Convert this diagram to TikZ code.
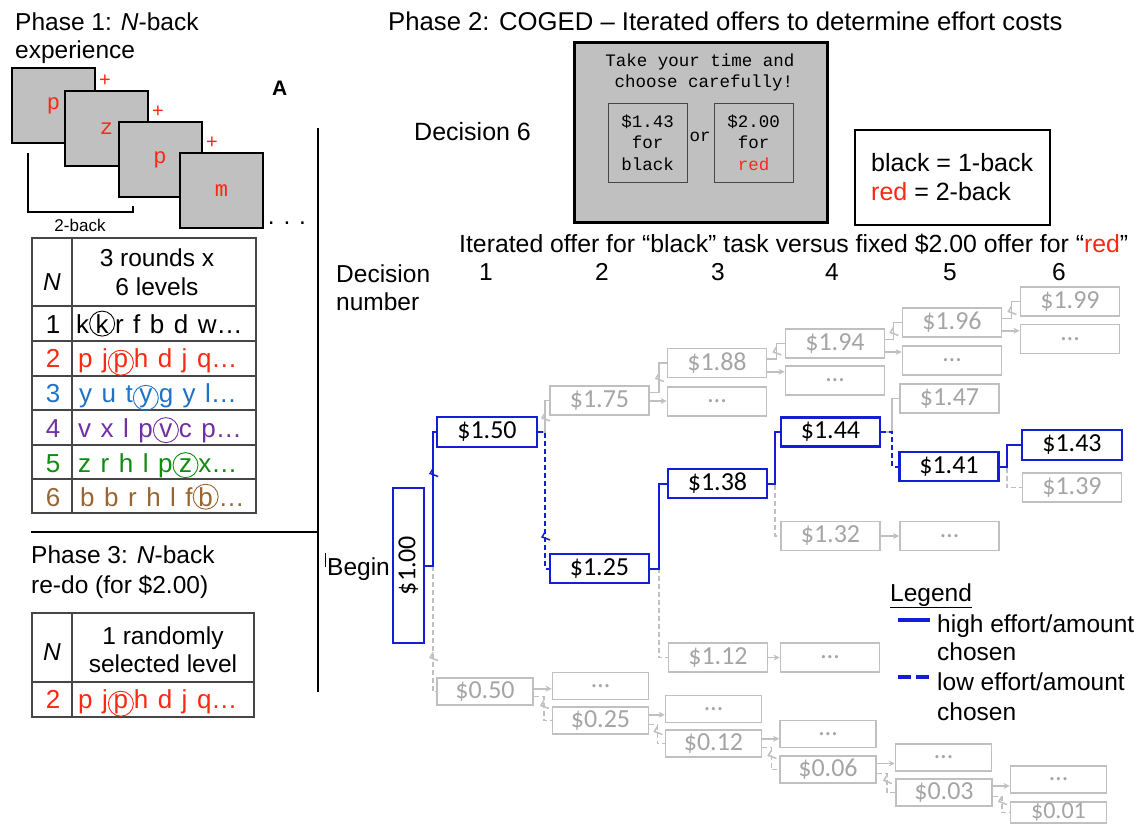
\documentclass[tikz,border=0pt]{standalone}
\usepackage{fontspec}
\setmainfont{Liberation Sans}
\newfontfamily\mono{Liberation Mono}
\newfontfamily\calib{Carlito}
\usetikzlibrary{calc,arrows.meta}
\definecolor{tred}{RGB}{250,40,20}
\definecolor{tblue}{RGB}{30,115,200}
\definecolor{tpurple}{RGB}{112,48,160}
\definecolor{tgreen}{RGB}{16,140,16}
\definecolor{tbrown}{RGB}{153,102,51}
\definecolor{pblue}{RGB}{20,30,215}
\definecolor{ggray}{RGB}{192,192,192}
\definecolor{gtext}{RGB}{165,165,165}
\definecolor{cardgray}{RGB}{192,192,192}
\definecolor{tline}{RGB}{70,70,70}
\newcommand\fA{\fontsize{24.5}{28}\selectfont}
\newcommand\fR{\fontsize{26}{30}\selectfont\spaceskip=9.5pt\relax}
\newcommand\cl[1]{\tikz[baseline=(cc.base)]\node[circle,draw,line width=0.9pt,inner sep=0pt,minimum width=25pt,minimum height=25pt](cc){#1};}
\begin{document}
\begin{tikzpicture}[x=1pt,y=-1pt,
  t/.style={anchor=base west, inner sep=0pt, font=\fA},
  tc/.style={anchor=base, inner sep=0pt, font=\fA},
  rt/.style={anchor=base west, inner sep=0pt, font=\fR},
  rd/.style={anchor=base, inner sep=0pt, font=\fR},
  card/.style={draw=black, line width=2pt, fill=cardgray, minimum width=83pt, minimum height=75pt, inner sep=0pt, text=tred, font=\mono\fontsize{22}{24}\selectfont},
  plus/.style={inner sep=0pt, text=tred, font=\fontsize{20}{22}\selectfont},
  tab/.style={draw=tline, line width=1.3pt},
  bbox/.style={draw=pblue, line width=2.2pt, minimum width=99pt, minimum height=29pt, inner sep=0pt, font=\calib\fontsize{26}{30}\selectfont},
  gbox/.style={draw=ggray, line width=1.8pt, text=gtext, minimum width=99pt, minimum height=29pt, inner sep=0pt, font=\calib\fontsize{26}{30}\selectfont},
  gboxs/.style={gbox, minimum width=96pt, minimum height=27pt},
  hi/.style={draw=pblue, line width=2pt},
  lo/.style={hi, dash pattern=on 5pt off 3pt},
  ghi/.style={draw=ggray, line width=1.8pt},
  glo/.style={ghi, dash pattern=on 5pt off 3pt},
  garr/.style={ghi, -{Stealth[length=6pt,width=6pt]}},
  zzb/.style={draw=pblue, line width=1.5pt},
  zzg/.style={draw=ggray, line width=1.5pt},
  opt/.style={draw=tline, line width=1pt, fill=cardgray, minimum width=79pt, minimum height=79pt, inner sep=0pt, align=center, font=\mono\fontsize{17.5}{21.5}\selectfont}
]
\clip (0,0) rectangle (1143,825);
\fill[white] (0,0) rectangle (1143,825);

% ---------------- Phase 1 ----------------
\node[t] (p1a) at (15,30) {Phase 1: {\itshape N}-back};
\node[t] (p1b) at (15,58) {experience};
\node[card] (c1) at (53.5,105.5) {p};
\node[card] (c2) at (106.5,128.5) {z};
\node[card] (c3) at (160,159.5) {p};
\node[card] (c4) at (221.5,190.5) {m};
\node[plus] (pl1) at (105,81) {+};
\node[plus] (pl2) at (158,112) {+};
\node[plus] (pl3) at (212,143) {+};
\node[anchor=base west, inner sep=0pt, font=\bfseries\fontsize{21}{24}\selectfont] (lA) at (272,95) {A};
\draw[line width=2pt] (28,153) -- (28,212) -- (133,212) -- (133,206);
\node[anchor=base, inner sep=0pt, font=\fontsize{17}{20}\selectfont] (tb) at (80,231) {2-back};
\node[anchor=base, inner sep=0pt, font=\fA] (dots) at (287,224) {.\hspace{8.8pt}.\hspace{8.8pt}.};

% table 1
\draw[tab] (32,238) rectangle (256,513);
\draw[tab] (72,238) -- (72,513);
\foreach \yy in {306,341,376,410,445,479} \draw[tab] (32,\yy) -- (256,\yy);
\node[tc] (hN) at (52,290) {\itshape N};
\node[tc] (h1) at (157,266) {3 rounds x};
\node[tc] (h2) at (157,295) {6 levels};
\node[rd] (n1) at (53,333) {1};
\node[rt] (r1) at (76,333) {k\cl{k}r f b d w…};
\node[rd, text=tred] (n2) at (53,367) {2};
\node[rt, text=tred] (r2) at (78,367) {p j\cl{p}h d j q…};
\node[rd, text=tblue] (n3) at (53,402) {3};
\node[rt, text=tblue] (r3) at (79,402) {y u t\cl{y}g y l…};
\node[rd, text=tpurple] (n4) at (53,437) {4};
\node[rt, text=tpurple] (r4) at (78,437) {v x l p\cl{v}c p…};
\node[rd, text=tgreen] (n5) at (53,472) {5};
\node[rt, text=tgreen] (r5) at (78,472) {z r h l p\cl{z}x…};
\node[rd, text=tbrown] (n6) at (53,506) {6};
\node[rt, text=tbrown] (r6) at (80,506) {b b r h l f\cl{b}…};

% dividers
\draw[line width=2pt] (318,128) -- (318,692);
\draw[line width=2pt] (31,532) -- (318,532);

% ---------------- Phase 3 ----------------
\node[t] (p3a) at (31,563) {Phase 3: {\itshape N}-back};
\node[t] (p3b) at (31,593) {re-do (for \$2.00)};
\draw[tab] (32,613) rectangle (254,717);
\draw[tab] (72,613) -- (72,717);
\draw[tab] (32,682) -- (254,682);
\node[tc] (h3N) at (52,660) {\itshape N};
\node[tc] (h31) at (163,644) {1 randomly};
\node[tc] (h32) at (163,672) {selected level};
\node[rd, text=tred] (n32) at (53,708) {2};
\node[rt, text=tred] (r32) at (78,708) {p j\cl{p}h d j q…};

% ---------------- Phase 2 ----------------
\node[anchor=base west, inner sep=0pt, font=\fontsize{25.7}{29}\selectfont] (p2) at (388,30) {Phase 2: COGED – Iterated offers to determine effort costs};
\node[anchor=base west, inner sep=0pt, font=\fontsize{25}{29}\selectfont] (dec6) at (414,140) {Decision 6};
\node[draw=black, line width=3pt, fill=cardgray, minimum width=253pt, minimum height=180pt, inner sep=0pt] (screen) at (700.5,132) {};
\node[anchor=center, inner sep=0pt, font=\mono\fontsize{17.5}{21.5}\selectfont] (s1) at (700,62) {Take your time and};
\node[anchor=center, inner sep=0pt, font=\mono\fontsize{17.5}{21.5}\selectfont] (s2) at (704,83) {choose carefully!};
\node[opt] (oL) at (647.5,142.5) {\$1.43\\for\\black};
\node[opt] (oR) at (753.5,142.5) {\$2.00\\for\\{\color{tred}red}};
\node[anchor=center, inner sep=0pt, font=\mono\fontsize{17.5}{21.5}\selectfont] (sor) at (700,137) {or};

\node[draw=black, line width=1.8pt, minimum width=195pt, minimum height=95pt, inner sep=0pt] (key) at (952.5,177.5) {};
\node[anchor=base west, inner sep=0pt, font=\fontsize{25}{29}\selectfont] (k1) at (871,171) {black = 1-back};
\node[anchor=base west, inner sep=0pt, font=\fontsize{25}{29}\selectfont] (k2) at (871,200) {{\color{tred}red} = 2-back};

\node[anchor=base west, inner sep=0pt, font=\fontsize{24.8}{29}\selectfont] (iter) at (459,252) {Iterated offer for “black” task versus fixed \$2.00 offer for “{\color{tred}red}”};
\node[t] (dn1) at (336,282) {Decision};
\node[t] (dn2) at (336,310) {number};
\node[tc] (d1) at (486,280) {1};
\node[tc] (d2) at (602,280) {2};
\node[tc] (d3) at (718,280) {3};
\node[tc] (d4) at (832,280) {4};
\node[tc] (d5) at (950,280) {5};
\node[tc] (d6) at (1059,280) {6};

\draw[line width=1pt] (325,553) -- (325,567);
\node[t] (begin) at (327,575) {Begin};

% tree nodes: blue
\node[bbox, minimum width=31pt, minimum height=155pt] (b100) at (408.5,565.5) {\rotatebox{90}{\$1.00}};
\node[bbox, minimum width=100pt, minimum height=30pt] (b150) at (487,432) {\$1.50};
\node[bbox] (b125) at (599.5,568.5) {\$1.25};
\node[bbox] (b138) at (717.5,483.5) {\$1.38};
\node[bbox] (b144) at (830.5,432) {\$1.44};
\node[bbox] (b141) at (949,466.5) {\$1.41};
\node[bbox, minimum width=100pt, minimum height=30pt] (b143) at (1072,445) {\$1.43};
% gray
\node[gbox] (g175) at (599.5,400.5) {\$1.75};
\node[gbox] (g188) at (717,363) {\$1.88};
\node[gbox] (d188) at (717,401.5) {…};
\node[gbox] (g194) at (835,343.5) {\$1.94};
\node[gbox] (d194) at (835,380.5) {…};
\node[gbox] (g196) at (952,322.5) {\$1.96};
\node[gbox] (d196) at (952,360.5) {…};
\node[gbox] (g199) at (1070,301.5) {\$1.99};
\node[gbox] (d199) at (1070,339) {…};
\node[gbox] (g147) at (949.5,398.5) {\$1.47};
\node[gbox] (g139) at (1072,487.5) {\$1.39};
\node[gbox] (g132) at (830.5,536) {\$1.32};
\node[gbox] (d132) at (949.5,536) {…};
\node[gbox] (g112) at (718,657.5) {\$1.12};
\node[gbox] (d112) at (830,657.5) {…};
\node[gboxs] (g050) at (485,691.5) {\$0.50};
\node[gboxs] (d050) at (600.5,686) {…};
\node[gboxs] (g025) at (600.5,720.5) {\$0.25};
\node[gboxs] (d025) at (713.5,709) {…};
\node[gboxs] (g012) at (713.5,743.5) {\$0.12};
\node[gboxs] (d012) at (828,734) {…};
\node[gboxs] (g006) at (828,769.5) {\$0.06};
\node[gboxs] (d006) at (943.5,757.5) {…};
\node[gboxs] (g003) at (944,792.5) {\$0.03};
\node[gboxs] (d003) at (1058.5,779.5) {…};
\node[gboxs, minimum height=21pt, font=\calib\fontsize{24}{28}\selectfont] (g001) at (1058.5,812.5) {\$0.01};

% connectors main path
\draw[glo] (b100.east) -- ++(8,0) |- (g050.west);
\draw[ghi] (b150.east) -- ++(7,0) |- (g175.west);
\draw[hi] (b100.east) -- ++(8,0) |- (b150.west);
\draw[lo] (b150.east) -- ++(7,0) |- (b125.west);
\draw[glo] (b125.east) -- ++(9,0) |- (g112.west);
\draw[hi] (b125.east) -- ++(9,0) |- (b138.west);
\draw[glo] (b138.east) -- ++(7,0) |- (g132.west);
\draw[hi] (b138.east) -- ++(7,0) |- (b144.west);
\draw[ghi] (b144.east) -- ++(11,0) |- (g147.west);
\draw[lo] (b144.east) -- ++(11,0) |- (b141.west);
\draw[glo] (b141.east) -- ++(7,0) |- (g139.west);
\draw[hi] (b141.east) -- ++(7,0) |- (b143.west);
\draw[garr] (g132) -- (d132);
\draw[garr] (g112) -- (d112);
% break marks
\draw[zzb] ($(b100.east)+(8,-92)$) ++(0,-5) -- ++(-3,5) -- ++(8,3);
\draw[zzb] ($(b150.east)+(7,105)$) ++(0,-5) -- ++(-3,5) -- ++(8,3);
\draw[zzg] ($(b150.east)+(7,-14)$) ++(0,-5) -- ++(-3,5) -- ++(8,3);
\draw[zzg] ($(b100.east)+(8,92)$) ++(0,-5) -- ++(-3,5) -- ++(8,3);

% upper gray chain
\draw[ghi] ($(g175.east)+(0,-8)$) -- ++(9,0) |- (g188.west);
\draw[ghi] ($(g188.east)+(0,-4)$) -- ++(9,0) |- (g194.west);
\draw[ghi] ($(g194.east)+(0,-4)$) -- ++(8,0) |- (g196.west);
\draw[ghi] ($(g196.east)+(0,-4)$) -- ++(9,0) |- (g199.west);
\coordinate (m1) at ($(g175.south)!.5!(d188.north)$);
\coordinate (m2) at ($(g188.south)!.5!(d194.north)$);
\coordinate (m3) at ($(g194.south)!.5!(d196.north)$);
\coordinate (m4) at ($(g196.south)!.5!(d199.north)$);
\draw[garr] (g175.east |- m1) -- (d188.west |- m1);
\draw[garr] (g188.east |- m2) -- (d194.west |- m2);
\draw[garr] (g194.east |- m3) -- (d196.west |- m3);
\draw[garr] (g196.east |- m4) -- (d199.west |- m4);
\draw[zzg] ($(g175.east)+(9,-22)$) ++(0,-5) -- ++(-3,5) -- ++(8,3);
\draw[zzg] ($(g188.east)+(9,-11)$) ++(0,-5) -- ++(-3,5) -- ++(8,3);
\draw[zzg] ($(g194.east)+(8,-11)$) ++(0,-5) -- ++(-3,5) -- ++(8,3);
\draw[zzg] ($(g196.east)+(9,-11)$) ++(0,-5) -- ++(-3,5) -- ++(8,3);

% lower gray chain
\draw[glo] ($(g050.east)+(0,5)$) -- ++(10,0) |- (g025.west);
\draw[glo] ($(g025.east)+(0,4)$) -- ++(8,0) |- (g012.west);
\draw[glo] ($(g012.east)+(0,4)$) -- ++(9,0) |- (g006.west);
\draw[glo] ($(g006.east)+(0,4)$) -- ++(10,0) |- (g003.west);
\draw[glo] ($(g003.east)+(0,4)$) -- ++(9,0) |- (g001.west);
\coordinate (n1) at ($(g050.north)!.5!(d050.south)$);
\coordinate (n2) at ($(g025.north)!.5!(d025.south)$);
\coordinate (n3) at ($(g012.north)!.5!(d012.south)$);
\coordinate (n4) at ($(g006.north)!.5!(d006.south)$);
\coordinate (n5) at ($(g003.north)!.5!(d003.south)$);
\draw[garr] (g050.east |- n1) -- (d050.west |- n1);
\draw[garr] (g025.east |- n2) -- (d025.west |- n2);
\draw[garr] (g012.east |- n3) -- (d012.west |- n3);
\draw[garr] (g006.east |- n4) -- (d006.west |- n4);
\draw[garr] (g003.east |- n5) -- (d003.west |- n5);
\draw[zzg] ($(g050.east)+(10,14)$) ++(0,-5) -- ++(-3,5) -- ++(8,3);
\draw[zzg] ($(g025.east)+(8,11)$) ++(0,-5) -- ++(-3,5) -- ++(8,3);
\draw[zzg] ($(g012.east)+(9,12)$) ++(0,-5) -- ++(-3,5) -- ++(8,3);
\draw[zzg] ($(g006.east)+(10,11)$) ++(0,-5) -- ++(-3,5) -- ++(8,3);
\draw[zzg] ($(g003.east)+(9,9)$) ++(0,-5) -- ++(-3,5) -- ++(8,3);

% legend
\node[t] (lg) at (890,601) {\underline{Legend}};
\coordinate (ls1) at (898,620);
\coordinate (ls2) at (930,620);
\coordinate (ld1) at (898,677);
\coordinate (ld2) at (930,677);
\draw[draw=pblue, line width=4pt] (ls1) -- (ls2);
\draw[draw=pblue, line width=4pt, dash pattern=on 13pt off 5pt] (ld1) -- (ld2);
\node[t] (lg1) at (937,632) {high effort/amount};
\node[t] (lg2) at (937,660) {chosen};
\node[t] (lg3) at (937,690) {low effort/amount};
\node[t] (lg4) at (937,720) {chosen};
\end{tikzpicture}
\end{document}
